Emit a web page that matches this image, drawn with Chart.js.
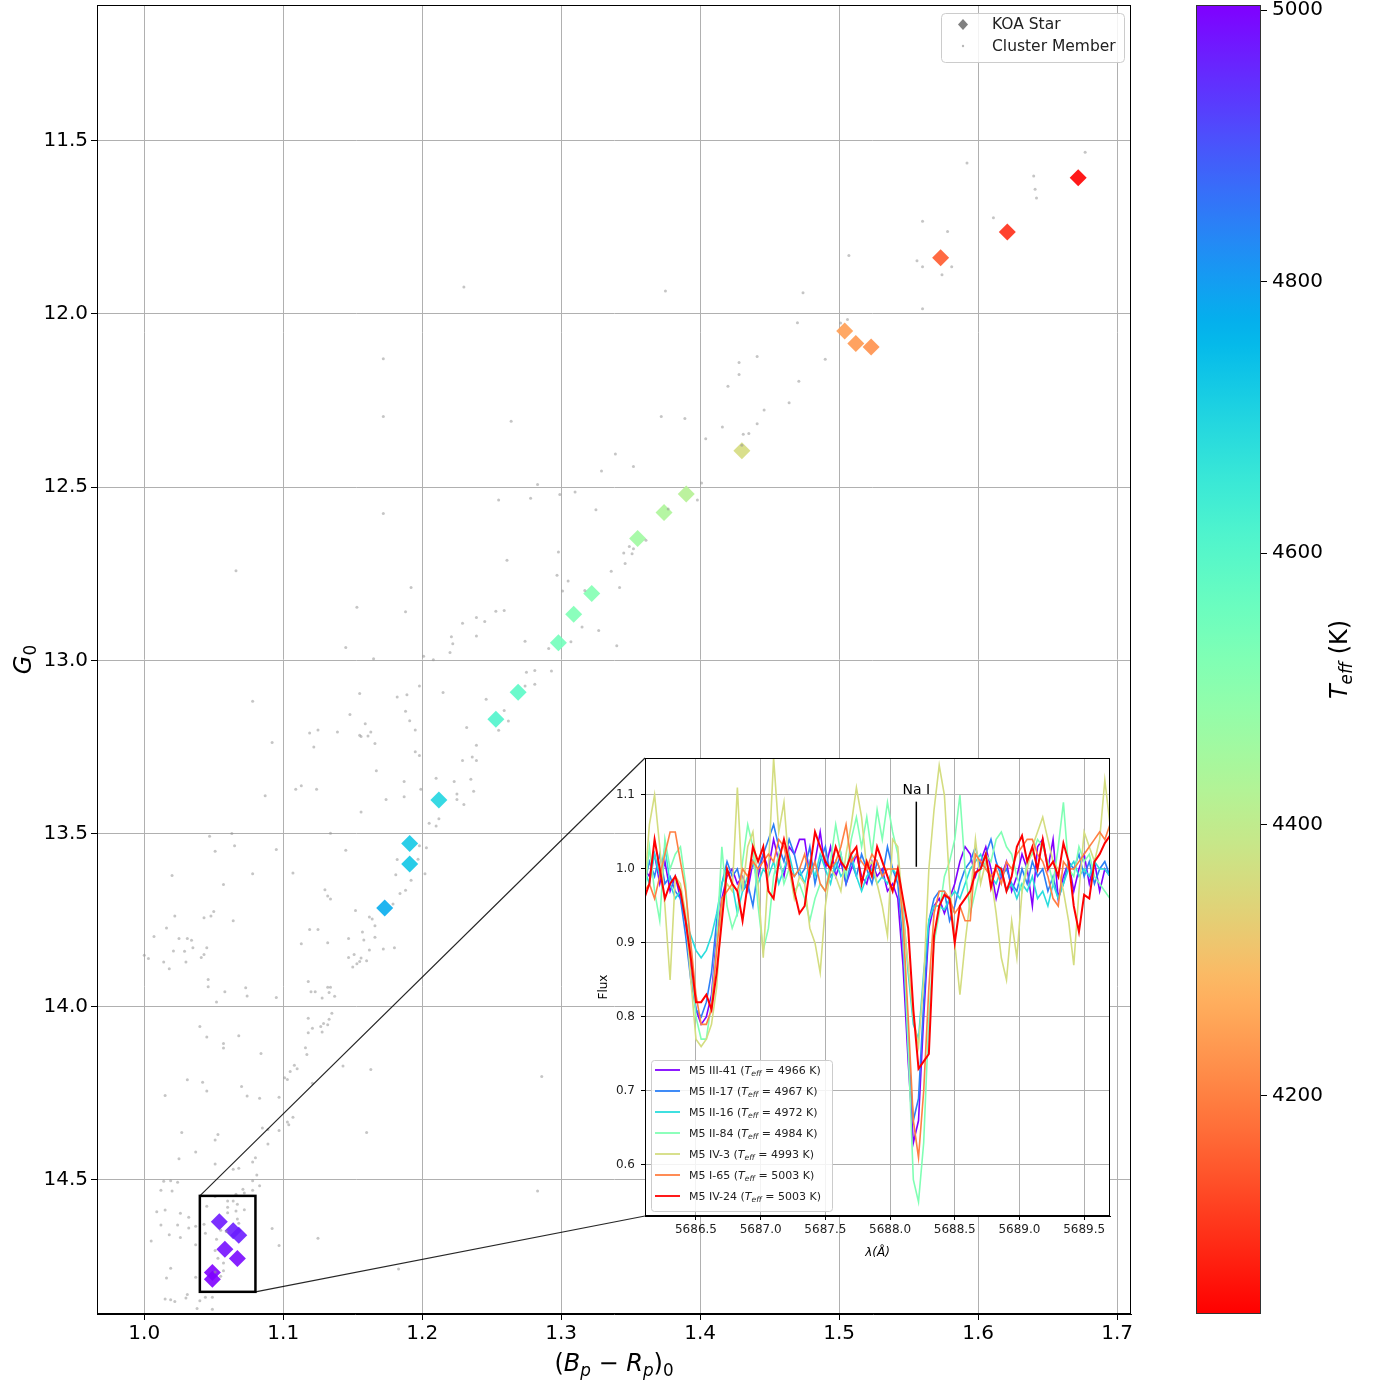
<!DOCTYPE html>
<html>
<head>
<meta charset="utf-8">
<script src="https://cdn.jsdelivr.net/npm/chart.js@4/dist/chart.umd.min.js"></script>
<style>
    body { margin: 0; background: #fff; }
    #wrap { position: relative; width: 1377px; height: 1384px; }
    #wrap canvas { position: absolute; }
</style>
</head>
<body>
<div id="wrap">
    <canvas id="cmdChart" width="1377" height="1384" style="left:0;top:0"></canvas>
    <canvas id="cbarChart" width="227" height="1384" style="left:1150px;top:0"></canvas>
    <canvas id="specChart" width="540" height="520" style="left:580px;top:750px"></canvas>
</div>
<script>
// --- colour-magnitude diagram ---
var tickBpRp = [1.0, 1.1, 1.2, 1.3, 1.4, 1.5, 1.6, 1.7];
var tickG = [11.5, 12.0, 12.5, 13.0, 13.5, 14.0, 14.5];
var rangeBpRp = [0.966, 1.71];
var rangeG = [11.108, 14.887];

// KOA stars (diamonds, coloured by Teff)
var koaBpRp = [1.672, 1.621, 1.573, 1.504, 1.512, 1.523, 1.430, 1.390, 1.374, 1.355,
    1.322, 1.309, 1.298, 1.269, 1.253, 1.212, 1.191, 1.191, 1.173,
    1.054, 1.064, 1.068, 1.058, 1.067, 1.049, 1.049];
var koaG = [11.607, 11.763, 11.838, 12.049, 12.085, 12.095, 12.395, 12.520, 12.573, 12.648,
    12.807, 12.867, 12.949, 13.092, 13.170, 13.403, 13.529, 13.588, 13.715,
    14.621, 14.647, 14.660, 14.700, 14.727, 14.767, 14.787];
var koaTeff = [4040, 4095, 4150, 4245, 4235, 4225, 4360, 4420, 4435, 4460,
    4515, 4525, 4545, 4590, 4610, 4700, 4725, 4730, 4775,
    4972, 4966, 4967, 4984, 4993, 5003, 5003];

// cluster members (grey dots)
var memBpRp = [1.172,1.066,1.192,1.153,1.188,1.145,1.165,1.201,1.208,1.229,1.239,1.245,1.221,1.222,1.220,1.239,1.246,1.198,1.215,1.155,
    1.182,1.189,1.078,1.148,1.188,1.191,1.159,1.119,1.125,1.139,1.155,1.156,1.163,1.161,1.195,1.232,1.092,1.122,1.166,1.239,
    1.195,1.198,1.229,1.236,1.239,1.167,1.210,1.223,1.235,1.237,1.187,1.087,1.109,1.113,1.124,1.174,1.187,1.199,1.225,1.225,
    1.230,1.156,1.210,1.205,1.212,1.047,1.063,1.134,1.051,1.065,1.095,1.145,1.203,1.198,1.197,1.020,1.078,1.107,1.202,1.057,
    1.130,1.132,1.134,1.181,1.192,1.188,1.184,1.182,1.179,1.152,1.162,1.164,1.166,1.157,1.166,1.158,1.147,1.172,1.180,1.162,
    1.151,1.156,1.147,1.160,1.155,1.153,1.150,1.113,1.119,1.125,1.132,1.022,1.043,1.048,1.050,1.064,1.007,1.016,1.025,1.031,
    1.034,1.021,1.029,1.035,1.045,1.043,1.041,1.000,1.003,1.014,1.018,1.030,1.046,1.046,1.058,1.073,1.074,1.095,1.118,1.120,
    1.123,1.132,1.134,1.128,1.133,1.137,
    1.052,1.135,1.133,1.129,1.127,1.132,1.118,1.121,1.118,1.128,1.040,1.045,1.068,1.057,1.057,1.084,1.116,1.117,1.108,1.110,
    1.105,1.101,1.103,1.143,1.163,1.121,1.031,1.042,1.070,1.045,1.015,1.074,1.083,1.097,1.107,1.103,1.104,1.085,1.089,1.097,
    1.160,1.027,1.053,1.051,1.089,1.037,1.025,1.080,1.078,1.051,1.068,1.064,1.081,1.078,1.083,1.014,1.019,1.024,1.012,1.020,
    1.071,1.078,1.072,1.066,1.051,1.060,1.064,1.045,1.060,1.067,1.072,1.060,1.066,1.009,1.015,1.032,1.026,1.067,1.068,1.012,
    1.024,1.032,1.037,1.043,1.044,1.092,1.018,1.026,1.005,1.125,1.052,1.055,1.059,1.037,1.097,1.019,1.016,1.037,1.057,1.051,
    1.055,1.053,1.057,1.051,1.183,1.015,1.019,1.022,1.030,1.031,1.040,1.044,1.049,1.049,1.038,1.286,1.283,
    1.507,1.375,1.474,1.470,1.501,1.506,1.490,1.441,1.428,1.428,1.420,1.471,1.464,1.446,1.264,1.372,1.389,1.416,1.441,1.431,
    1.435,1.404,1.430,1.339,1.352,1.329,1.401,1.283,1.255,1.278,1.299,1.310,1.325,1.398,1.377,1.361,1.349,1.352,1.351,1.345,
    1.346,1.336,1.298,1.261,1.297,1.305,1.301,1.342,1.317,1.315,1.327,1.340,1.307,1.291,1.274,1.253,1.259,1.275,1.281,1.293,
    1.281,1.274,1.259,1.262,1.255,
    1.677,1.640,1.641,1.642,1.592,1.611,1.560,1.578,1.556,1.560,1.581,1.574,1.560,1.230,1.172,1.172];
var memG = [12.576,12.741,12.790,12.847,12.860,12.963,12.995,12.988,12.998,12.893,12.876,12.888,12.932,12.952,12.977,12.930,13.112,13.074,13.093,13.096,
    13.106,13.099,13.118,13.156,13.147,13.174,13.183,13.210,13.201,13.207,13.216,13.220,13.207,13.218,13.201,13.194,13.237,13.250,13.240,13.245,
    13.264,13.275,13.289,13.279,13.289,13.319,13.340,13.350,13.343,13.378,13.350,13.391,13.372,13.362,13.372,13.402,13.394,13.372,13.386,13.402,
    13.416,13.438,13.478,13.470,13.457,13.508,13.500,13.499,13.551,13.535,13.546,13.548,13.541,13.535,13.574,13.621,13.616,13.614,13.616,13.647,
    13.662,13.680,13.689,13.619,13.635,13.664,13.673,13.575,13.703,13.722,13.741,13.747,13.766,13.784,13.799,13.807,13.803,13.833,13.830,13.836,
    13.849,13.859,13.858,13.867,13.869,13.876,13.885,13.818,13.777,13.777,13.815,13.738,13.743,13.738,13.725,13.752,13.797,13.773,13.803,13.803,
    13.808,13.839,13.840,13.830,13.830,13.849,13.858,13.851,13.861,13.871,13.890,13.871,13.921,13.942,13.957,13.945,13.969,13.973,13.927,13.957,
    13.957,13.944,13.944,13.975,13.959,13.970,
    13.986,14.019,14.036,14.048,14.057,14.052,14.033,14.062,14.075,14.073,14.057,14.087,14.084,14.106,14.119,14.135,14.118,14.138,14.169,14.179,
    14.187,14.205,14.210,14.171,14.181,14.221,14.211,14.218,14.230,14.243,14.256,14.258,14.264,14.261,14.319,14.333,14.341,14.350,14.354,14.357,
    14.363,14.363,14.369,14.385,14.396,14.419,14.439,14.436,14.448,14.454,14.466,14.469,14.486,14.502,14.517,14.504,14.502,14.507,14.530,14.532,
    14.527,14.530,14.538,14.541,14.548,14.561,14.561,14.576,14.579,14.570,14.586,14.595,14.590,14.592,14.587,14.608,14.596,14.613,14.625,14.630,
    14.630,14.639,14.634,14.628,14.654,14.640,14.658,14.666,14.676,14.668,14.671,14.645,14.649,14.687,14.689,14.755,14.783,14.781,14.762,14.766,
    14.778,14.726,14.740,14.704,14.757,14.844,14.846,14.851,14.841,14.831,14.849,14.839,14.839,14.873,14.871,14.201,14.532,
    11.831,11.934,11.939,12.025,12.026,12.016,12.131,12.123,12.140,12.175,12.209,12.194,12.256,12.277,12.310,12.296,12.302,12.326,12.317,12.347,
    12.345,12.360,12.379,12.404,12.440,12.453,12.488,12.492,12.537,12.532,12.521,12.514,12.565,12.537,12.563,12.653,12.671,12.678,12.692,12.690,
    12.720,12.743,12.687,12.711,12.754,12.771,12.800,12.790,12.798,12.904,12.914,12.958,12.946,12.966,12.945,12.858,12.856,13.034,13.029,13.031,
    13.069,13.074,13.145,13.175,13.202,
    11.533,11.602,11.640,11.665,11.564,11.722,11.732,11.762,11.846,11.864,11.864,11.887,11.985,11.922,12.129,12.296];

// zoom box drawn round the seven hottest stars
var zoomBpRp = [1.04, 1.08];
var zoomG = [14.546, 14.823];

// --- colour bar ---
var tickTeff = [4200, 4400, 4600, 4800, 5000];
var rangeTeff = [4039.4, 5003.7];

// --- inset spectra ---
var tickWave = [5686.5, 5687.0, 5687.5, 5688.0, 5688.5, 5689.0, 5689.5];
var tickFlux = [0.6, 0.7, 0.8, 0.9, 1.0, 1.1];
var rangeWave = [5686.106, 5689.70];
var rangeFlux = [0.531, 1.15];
var naLine = { wave: 5688.203, top: 1.091, bottom: 1.003, label: 'Na I' };

var specNames = ['M5 III-41', 'M5 II-17', 'M5 II-16', 'M5 II-84', 'M5 IV-3', 'M5 I-65', 'M5 IV-24'];
var specTeff = [4966, 4967, 4972, 4984, 4993, 5003, 5003];

var wave = [5686.10,5686.14,5686.18,5686.22,5686.26,5686.30,5686.34,5686.38,5686.42,5686.46,
    5686.50,5686.54,5686.58,5686.62,5686.66,5686.70,5686.74,5686.78,5686.82,5686.86,
    5686.90,5686.94,5686.98,5687.02,5687.06,5687.10,5687.14,5687.18,5687.22,5687.26,
    5687.30,5687.34,5687.38,5687.42,5687.46,5687.50,5687.54,5687.58,5687.62,5687.66,
    5687.70,5687.74,5687.78,5687.82,5687.86,5687.90,5687.94,5687.98,5688.02,5688.06,
    5688.10,5688.14,5688.18,5688.22,5688.26,5688.30,5688.34,5688.38,5688.42,5688.46,
    5688.50,5688.54,5688.58,5688.62,5688.66,5688.70,5688.74,5688.78,5688.82,5688.86,
    5688.90,5688.94,5688.98,5689.02,5689.06,5689.10,5689.14,5689.18,5689.22,5689.26,
    5689.30,5689.34,5689.38,5689.42,5689.46,5689.50,5689.54,5689.58,5689.62,5689.66,
    5689.70];

var fluxIII41 = [1.00,0.99,1.02,0.98,1.01,0.97,0.99,0.96,0.93,0.87,
    0.81,0.79,0.80,0.83,0.91,0.96,0.99,1.00,0.98,0.99,
    0.97,1.01,0.99,1.02,1.00,1.04,1.01,0.99,1.03,1.02,
    1.04,1.04,0.99,1.01,1.05,1.00,1.03,0.99,1.01,0.98,
    1.00,1.02,0.99,0.98,1.01,0.99,1.00,0.97,0.98,0.96,
    0.87,0.74,0.63,0.66,0.80,0.92,0.95,0.96,0.94,0.96,
    0.98,1.01,1.03,1.02,0.99,1.01,1.03,1.00,0.96,0.99,
    1.01,0.97,0.99,1.02,1.00,0.95,1.03,1.04,1.00,1.04,
    0.96,0.99,1.01,0.97,1.00,1.02,0.98,1.01,0.97,1.00,
    0.99];
var fluxII17 = [0.98,1.01,0.99,1.02,0.98,0.99,0.97,0.96,0.91,0.85,
    0.81,0.80,0.82,0.86,0.93,0.98,1.01,0.99,1.00,0.97,
    0.98,0.95,1.00,1.02,1.04,1.06,1.03,1.01,1.04,1.02,
    0.99,1.00,1.03,0.98,1.01,1.03,0.99,1.00,1.02,0.98,
    1.01,0.99,1.02,1.00,0.98,1.01,0.99,1.03,1.00,0.98,
    0.90,0.76,0.66,0.69,0.82,0.93,0.96,0.97,0.97,0.93,
    0.95,0.98,1.00,1.01,1.03,1.00,1.02,1.04,1.01,0.99,
    1.00,0.98,0.97,1.00,0.98,1.01,0.99,1.00,0.97,0.99,
    0.96,0.98,1.01,1.00,1.02,0.99,1.01,0.98,1.00,1.01,
    0.99];
var fluxII16 = [1.00,0.98,1.02,0.99,1.03,0.98,0.96,0.97,0.93,0.91,
    0.89,0.88,0.89,0.91,0.94,0.98,1.00,0.98,0.94,0.97,
    0.99,1.01,0.98,1.00,0.99,1.01,0.98,1.00,1.02,0.99,
    1.00,0.98,1.01,0.99,1.02,1.00,0.98,1.01,0.99,1.00,
    1.02,0.99,0.97,0.99,1.00,0.98,0.99,0.98,1.00,0.99,
    0.95,0.86,0.79,0.77,0.86,0.93,0.95,0.95,0.945,0.96,
    0.97,0.96,0.98,1.00,1.01,1.02,1.00,0.99,0.98,1.00,
    0.97,0.98,0.96,0.98,0.97,0.99,0.96,0.97,0.95,0.98,
    0.96,0.98,1.00,1.01,0.99,1.00,0.99,1.01,1.00,1.00,
    0.99];
var fluxII84 = [0.96,1.03,0.97,0.93,1.04,1.00,1.02,1.03,0.98,0.88,
    0.80,0.77,0.77,0.82,0.90,1.03,0.95,0.92,0.94,1.01,
    1.06,1.03,0.95,0.89,0.92,0.99,1.02,0.98,1.00,0.97,
    0.98,0.96,0.93,0.96,0.98,0.97,1.01,1.06,1.02,0.99,
    1.04,1.07,1.03,1.07,1.02,1.08,1.04,1.09,1.05,1.02,
    0.92,0.76,0.58,0.55,0.63,0.80,0.90,0.94,0.99,1.01,
    1.04,1.10,1.00,0.94,0.97,1.00,1.02,1.01,1.04,1.05,
    1.03,1.02,0.99,0.97,1.01,1.02,1.04,1.03,1.01,0.98,
    1.03,1.09,1.00,0.99,1.03,1.01,1.02,0.99,0.98,0.97,
    0.96];
var fluxIV3 = [0.97,1.06,1.10,1.03,0.95,0.85,0.99,0.98,0.94,0.85,
    0.77,0.76,0.77,0.79,0.84,0.95,0.98,0.97,1.11,0.97,
    1.03,1.05,0.98,0.88,1.00,1.15,1.05,1.09,1.00,0.96,
    0.99,0.98,0.92,0.90,0.86,0.95,1.00,0.99,0.97,1.02,
    1.06,1.11,1.07,1.00,1.01,0.98,0.95,0.91,1.04,1.03,
    0.94,0.87,0.80,0.76,0.85,1.00,1.08,1.14,1.10,0.98,
    0.90,0.83,0.90,0.96,1.04,0.98,1.01,0.99,0.94,0.88,
    0.85,0.93,0.88,0.97,1.00,1.03,1.05,1.07,1.04,1.01,
    1.00,0.97,0.93,0.87,0.97,1.05,1.03,1.01,1.04,1.12,
    1.06];
var fluxI65 = [0.97,0.98,0.96,0.99,1.02,1.05,1.05,1.01,0.97,0.90,
    0.83,0.79,0.79,0.81,0.89,0.96,0.97,0.98,0.97,1.00,
    0.99,1.01,1.00,1.01,1.02,1.01,1.04,1.03,1.00,0.99,
    1.00,1.02,0.99,1.01,0.98,0.97,1.00,1.01,1.03,1.06,
    1.01,1.02,1.01,1.00,1.02,1.01,0.99,1.00,1.00,1.00,
    0.93,0.80,0.66,0.61,0.70,0.84,0.94,0.97,0.97,0.96,
    0.94,0.95,0.93,0.93,1.02,1.01,1.00,0.99,1.00,0.98,
    1.01,1.00,1.02,1.03,1.04,1.04,1.02,1.01,0.99,0.96,
    0.95,1.01,1.00,1.00,1.01,1.02,1.03,1.04,1.05,1.04,
    1.06];
var fluxIV24 = [0.96,0.98,1.04,1.00,0.96,0.98,0.99,0.97,0.93,0.88,
    0.82,0.82,0.83,0.81,0.86,0.93,1.00,0.98,0.97,0.93,
    0.98,1.03,1.01,1.03,0.97,0.96,1.01,1.04,1.01,0.97,
    0.94,0.95,1.00,1.05,1.03,1.01,1.00,1.03,1.01,1.00,
    1.02,1.03,0.98,1.01,0.99,1.03,1.01,0.99,0.97,1.00,
    0.96,0.92,0.81,0.73,0.74,0.75,0.91,0.95,0.965,0.96,
    0.90,0.95,0.96,0.97,0.995,1.00,1.02,0.975,1.005,1.00,
    0.97,0.99,1.03,1.045,1.01,1.03,1.00,1.04,1.00,1.01,
    0.99,1.035,1.01,0.95,0.915,0.965,0.96,1.01,1.02,1.035,
    1.045];
var specFlux = [fluxIII41, fluxII17, fluxII16, fluxII84, fluxIV3, fluxI65, fluxIV24];

var FONT = '"DejaVu Sans", "Liberation Sans", sans-serif';
var INSET_LEFT = 580, INSET_TOP = 750;

Chart.defaults.font.family = FONT;
Chart.defaults.color = '#000';

// matplotlib "rainbow" colormap
function rainbow(t, alpha) {
    var r = Math.min(1, Math.abs(2 * t - 0.5));
    var g = Math.min(1, Math.max(0, Math.sin(Math.PI * t)));
    var b = Math.min(1, Math.max(0, Math.cos(Math.PI * t / 2)));
    return 'rgba(' + Math.round(r * 255) + ',' + Math.round(g * 255) + ',' + Math.round(b * 255) + ',' + (alpha == null ? 1 : alpha) + ')';
}
// reversed rainbow over the Teff range (hot = purple)
function teffColor(t, alpha) {
    var n = (t - rangeTeff[0]) / (rangeTeff[1] - rangeTeff[0]);
    n = Math.max(0, Math.min(1, n));
    return rainbow(1 - n, alpha);
}

// tiny mathtext: parts are [text, style] with style n/i (normal/italic) and s (subscript)
function drawMath(ctx, parts, x, y, size, align) {
    var items = parts.map(function (p) {
        var sub = p[1].indexOf('s') >= 0;
        var it = p[1].indexOf('i') >= 0;
        var font = (it ? 'italic ' : '') + (sub ? size * 0.7 : size) + 'px ' + FONT;
        ctx.font = font;
        return { t: p[0], font: font, dy: sub ? size * 0.22 : 0, w: ctx.measureText(p[0]).width };
    });
    var total = items.reduce(function (s, it) { return s + it.w; }, 0);
    var cx = align === 'center' ? x - total / 2 : x;
    ctx.textAlign = 'left';
    ctx.textBaseline = 'alphabetic';
    items.forEach(function (it) {
        ctx.font = it.font;
        ctx.fillText(it.t, cx, y + it.dy);
        cx += it.w;
    });
}

function roundBox(ctx, x, y, w, h, r) {
    ctx.beginPath();
    ctx.moveTo(x + r, y);
    ctx.arcTo(x + w, y, x + w, y + h, r);
    ctx.arcTo(x + w, y + h, x, y + h, r);
    ctx.arcTo(x, y + h, x, y, r);
    ctx.arcTo(x, y, x + w, y, r);
    ctx.closePath();
}

function fixedTicks(values) {
    return function (scale) { scale.ticks = values.map(function (v) { return { value: v }; }); };
}
// pin the axis box size and drop the label-overflow padding Chart.js adds
function fixWidth(w) {
    return function (s) { s.width = w; s.paddingTop = 0; s.paddingBottom = 0; };
}
function fixHeight(h) {
    return function (s) { s.height = h; s.paddingLeft = 0; s.paddingRight = 0; };
}

// ---------- inset spectra ----------
var specPlugin = {
    id: 'specDecor',
    beforeDraw: function (chart) {
        var a = chart.chartArea, ctx = chart.ctx;
        ctx.save();
        ctx.fillStyle = '#fff';
        ctx.fillRect(a.left, a.top, a.right - a.left, a.bottom - a.top);
        ctx.restore();
    },
    afterDraw: function (chart) {
        var a = chart.chartArea, ctx = chart.ctx;
        var xs = chart.scales.x, ys = chart.scales.y;
        ctx.save();
        ctx.strokeStyle = '#000';
        ctx.lineWidth = 1;
        ctx.strokeRect(a.left + 0.5, a.top + 0.5, a.right - a.left - 1, a.bottom - a.top - 1);

        // Na I marker
        var nx = xs.getPixelForValue(naLine.wave);
        ctx.beginPath();
        ctx.moveTo(nx, ys.getPixelForValue(naLine.top));
        ctx.lineTo(nx, ys.getPixelForValue(naLine.bottom));
        ctx.lineWidth = 1.5;
        ctx.stroke();
        ctx.fillStyle = '#000';
        ctx.font = '14px ' + FONT;
        ctx.textAlign = 'center';
        ctx.textBaseline = 'alphabetic';
        ctx.fillText(naLine.label, nx, ys.getPixelForValue(naLine.top) - 8);

        // legend
        var lx = a.left + 6, ly = 310, rowH = 21;
        roundBox(ctx, lx + 0.5, ly + 0.5, 181, 151, 3);
        ctx.fillStyle = 'rgba(255,255,255,0.85)';
        ctx.fill();
        ctx.strokeStyle = '#cccccc';
        ctx.lineWidth = 1;
        ctx.stroke();
        specNames.forEach(function (name, i) {
            var y = ly + 10 + i * rowH;
            ctx.beginPath();
            ctx.moveTo(lx + 4, y);
            ctx.lineTo(lx + 29, y);
            ctx.strokeStyle = chart.data.datasets[i].borderColor;
            ctx.lineWidth = 1.8;
            ctx.stroke();
            ctx.fillStyle = '#222';
            drawMath(ctx, [[name + ' (', 'n'], ['T', 'i'], ['eff', 'is'], [' = ' + specTeff[i] + ' K)', 'n']],
                lx + 38, y + 4, 11, 'left');
        });

        // axis labels
        ctx.fillStyle = '#000';
        drawMath(ctx, [['λ(Å)', 'i']], (a.left + a.right) / 2, 506, 12, 'center');
        ctx.translate(27, (a.top + a.bottom) / 2);
        ctx.rotate(-Math.PI / 2);
        drawMath(ctx, [['Flux', 'n']], 0, 0, 12, 'center');
        ctx.restore();
    }
};

var specChart = new Chart(document.getElementById('specChart'), {
    type: 'line',
    data: {
        datasets: specFlux.map(function (flux, i) {
            return {
                label: specNames[i],
                data: flux.map(function (f, j) { return { x: wave[j], y: f }; }),
                borderColor: rainbow(i / (specFlux.length - 1)),
                borderWidth: i === specFlux.length - 1 ? 2 : 1.6,
                pointRadius: 0,
                tension: 0,
                order: specFlux.length - 1 - i
            };
        })
    },
    options: {
        responsive: false,
        animation: false,
        devicePixelRatio: 1,
        events: [],
        layout: { autoPadding: false, padding: { top: 8, right: 10, left: 0, bottom: 0 } },
        plugins: { legend: { display: false }, tooltip: { enabled: false } },
        scales: {
            x: {
                type: 'linear',
                min: rangeWave[0],
                max: rangeWave[1],
                afterBuildTicks: fixedTicks(tickWave),
                afterFit: fixHeight(54),
                grid: { color: '#b0b0b0', lineWidth: 1, tickColor: '#000', tickLength: 4 },
                border: { color: '#000' },
                ticks: { font: { size: 12 }, color: '#222', padding: 3, maxRotation: 0, autoSkip: false,
                    callback: function (v) { return v.toFixed(1); } }
            },
            y: {
                type: 'linear',
                min: rangeFlux[0],
                max: rangeFlux[1],
                afterBuildTicks: fixedTicks(tickFlux),
                afterFit: fixWidth(65),
                grid: { color: '#b0b0b0', lineWidth: 1, tickColor: '#000', tickLength: 4 },
                border: { color: '#000' },
                ticks: { font: { size: 12 }, color: '#222', padding: 6, autoSkip: false,
                    callback: function (v) { return v.toFixed(1); } }
            }
        }
    },
    plugins: [specPlugin]
});

// ---------- main colour-magnitude diagram ----------
var cmdPlugin = {
    id: 'cmdDecor',
    afterDraw: function (chart) {
        var a = chart.chartArea, ctx = chart.ctx;
        var xs = chart.scales.x, ys = chart.scales.y;
        ctx.save();
        ctx.strokeStyle = '#000';
        ctx.lineWidth = 1;
        ctx.strokeRect(a.left + 0.5, a.top + 0.5, a.right - a.left - 1, a.bottom - a.top - 1);

        // zoom box and connectors to the inset
        var bx0 = xs.getPixelForValue(zoomBpRp[0]), bx1 = xs.getPixelForValue(zoomBpRp[1]);
        var by0 = ys.getPixelForValue(zoomG[0]), by1 = ys.getPixelForValue(zoomG[1]);
        var ia = specChart.chartArea;
        var il = INSET_LEFT + ia.left, it = INSET_TOP + ia.top, ib = INSET_TOP + ia.bottom;
        ctx.strokeStyle = 'rgba(0,0,0,0.85)';
        ctx.lineWidth = 1.2;
        ctx.beginPath();
        ctx.moveTo(bx0, by0); ctx.lineTo(il, it);
        ctx.moveTo(bx1, by1); ctx.lineTo(il, ib);
        ctx.stroke();
        ctx.strokeStyle = '#000';
        ctx.lineWidth = 2.5;
        ctx.strokeRect(bx0, by0, bx1 - bx0, by1 - by0);

        // legend
        roundBox(ctx, 941.5, 13.5, 183, 49, 4);
        ctx.fillStyle = 'rgba(255,255,255,0.85)';
        ctx.fill();
        ctx.strokeStyle = '#cccccc';
        ctx.lineWidth = 1;
        ctx.stroke();
        ctx.fillStyle = '#808080';
        ctx.beginPath();
        ctx.moveTo(963, 19); ctx.lineTo(968, 24.5); ctx.lineTo(963, 30); ctx.lineTo(958, 24.5);
        ctx.closePath();
        ctx.fill();
        ctx.fillStyle = '#b8b8b8';
        ctx.beginPath();
        ctx.arc(963, 46, 1.2, 0, Math.PI * 2);
        ctx.fill();
        ctx.fillStyle = '#222';
        ctx.font = '15.5px ' + FONT;
        ctx.textAlign = 'left';
        ctx.textBaseline = 'middle';
        ctx.fillText(chart.data.datasets[1].label, 992, 25);
        ctx.fillText(chart.data.datasets[0].label, 992, 47);

        // axis titles
        ctx.fillStyle = '#000';
        drawMath(ctx, [['(', 'n'], ['B', 'i'], ['p', 'is'], [' − ', 'n'], ['R', 'i'], ['p', 'is'], [')', 'n'], ['0', 's']],
            (a.left + a.right) / 2, 1371, 24, 'center');
        ctx.translate(31, (a.top + a.bottom) / 2);
        ctx.rotate(-Math.PI / 2);
        drawMath(ctx, [['G', 'i'], ['0', 's']], 0, 0, 24, 'center');
        ctx.restore();
    }
};

new Chart(document.getElementById('cmdChart'), {
    type: 'scatter',
    data: {
        datasets: [
            {
                label: 'Cluster Member',
                data: memBpRp.map(function (x, i) { return { x: x, y: memG[i] }; }),
                pointRadius: 1.5,
                backgroundColor: 'rgba(150,150,150,0.55)',
                borderWidth: 0,
                order: 0
            },
            {
                label: 'KOA Star',
                data: koaBpRp.map(function (x, i) { return { x: x, y: koaG[i] }; }),
                pointStyle: 'rectRot',
                pointRadius: 8.5,
                backgroundColor: koaTeff.map(function (t) { return teffColor(t, 0.9); }),
                borderWidth: 0,
                order: 1
            }
        ]
    },
    options: {
        responsive: false,
        animation: false,
        devicePixelRatio: 1,
        events: [],
        layout: { autoPadding: false, padding: { top: 5, right: 246, left: 0, bottom: 0 } },
        plugins: { legend: { display: false }, tooltip: { enabled: false } },
        scales: {
            x: {
                type: 'linear',
                min: rangeBpRp[0],
                max: rangeBpRp[1],
                afterBuildTicks: fixedTicks(tickBpRp),
                afterFit: fixHeight(70),
                grid: { color: '#b0b0b0', lineWidth: 1, tickColor: '#000', tickLength: 6 },
                border: { color: '#000' },
                ticks: { font: { size: 20 }, color: '#000', padding: 2, maxRotation: 0, autoSkip: false,
                    callback: function (v) { return v.toFixed(1); } }
            },
            y: {
                type: 'linear',
                reverse: true,
                min: rangeG[0],
                max: rangeG[1],
                afterBuildTicks: fixedTicks(tickG),
                afterFit: fixWidth(97),
                grid: { color: '#b0b0b0', lineWidth: 1, tickColor: '#000', tickLength: 6 },
                border: { color: '#000' },
                ticks: { font: { size: 20 }, color: '#000', padding: 3, autoSkip: false,
                    callback: function (v) { return v.toFixed(1); } }
            }
        }
    },
    plugins: [cmdPlugin]
});

// ---------- colour bar ----------
var cbarPlugin = {
    id: 'cbarDecor',
    beforeDatasetsDraw: function (chart) {
        var a = chart.chartArea, ctx = chart.ctx;
        var grad = ctx.createLinearGradient(0, a.top, 0, a.bottom);
        for (var s = 0; s <= 50; s++) grad.addColorStop(s / 50, rainbow(s / 50));
        ctx.save();
        ctx.fillStyle = grad;
        ctx.fillRect(a.left, a.top, a.right - a.left, a.bottom - a.top);
        ctx.strokeStyle = '#333';
        ctx.lineWidth = 1;
        ctx.strokeRect(a.left + 0.5, a.top + 0.5, a.right - a.left - 1, a.bottom - a.top - 1);
        ctx.restore();
    },
    afterDraw: function (chart) {
        var a = chart.chartArea, ctx = chart.ctx;
        ctx.save();
        ctx.fillStyle = '#000';
        ctx.translate(197, (a.top + a.bottom) / 2);
        ctx.rotate(-Math.PI / 2);
        drawMath(ctx, [['T', 'i'], ['eff', 'is'], [' (K)', 'n']], 0, 0, 24, 'center');
        ctx.restore();
    }
};

new Chart(document.getElementById('cbarChart'), {
    type: 'scatter',
    data: { datasets: [{ data: [] }] },
    options: {
        responsive: false,
        animation: false,
        devicePixelRatio: 1,
        events: [],
        layout: { autoPadding: false, padding: { top: 5, right: 0, left: 46, bottom: 70 } },
        plugins: { legend: { display: false }, tooltip: { enabled: false } },
        scales: {
            x: { display: false },
            y: {
                type: 'linear',
                position: 'right',
                min: rangeTeff[0],
                max: rangeTeff[1],
                afterBuildTicks: fixedTicks(tickTeff),
                afterFit: fixWidth(116),
                grid: { drawOnChartArea: false, tickColor: '#000', tickLength: 6 },
                border: { display: false },
                ticks: { font: { size: 20 }, color: '#000', padding: 5, autoSkip: false,
                    callback: function (v) { return String(v); } }
            }
        }
    },
    plugins: [cbarPlugin]
});
</script>
</body>
</html>
